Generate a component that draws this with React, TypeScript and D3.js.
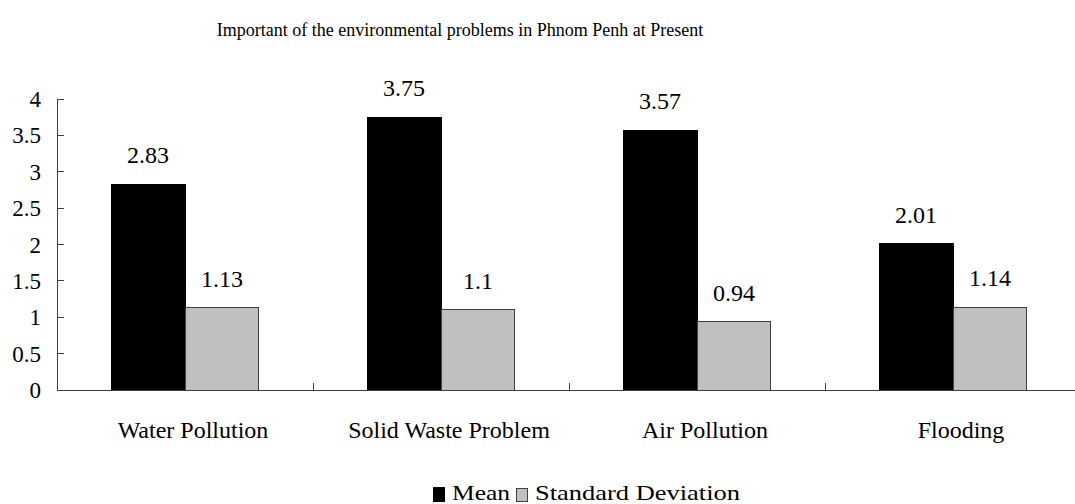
import React from 'react';
import * as d3 from 'd3';

// chart data
const categories = ['Water Pollution', 'Solid Waste Problem', 'Air Pollution', 'Flooding'];
const seriesNames = ['Mean', 'Standard Deviation'];
const meanValues = [2.83, 3.75, 3.57, 2.01];
const sdValues = [1.13, 1.1, 0.94, 1.14];
const yTicks = [0, 0.5, 1, 1.5, 2, 2.5, 3, 3.5, 4];
const title = 'Important of the environmental problems in Phnom Penh at Present';

const colors = ['#000000', '#c0c0c0'];
const strokes = ['#000000', '#404040'];

const App = () => {
  const width = 1075;
  const height = 504;
  const margin = { top: 99, left: 57, bottom: 114, right: -6 };

  const x0 = d3
    .scaleBand()
    .domain(categories)
    .range([margin.left, width - margin.right])
    .paddingInner(0)
    .paddingOuter(0);

  const x1 = d3
    .scaleBand()
    .domain(seriesNames)
    .range([0, x0.bandwidth()])
    .paddingInner(0)
    .paddingOuter(0.73);

  const y = d3
    .scaleLinear()
    .domain([0, 4])
    .range([height - margin.bottom, margin.top]);

  const series = [meanValues, sdValues];
  const axisColor = '#404040';
  const y0 = y(0);

  return (
    <svg
      width={width}
      height={height}
      style={{
        position: 'absolute',
        left: 0,
        top: 0,
        background: '#fff',
        fontFamily: "'Liberation Serif', 'Times New Roman', Times, serif",
      }}
    >
      <text x={460} y={36} textAnchor="middle" fontSize={18}>
        {title}
      </text>

      {/* bars + value labels */}
      {categories.map((c, i) => (
        <g key={c} transform={`translate(${x0(c)},0)`}>
          {seriesNames.map((s, j) => {
            const v = series[j][i];
            const bx = x1(s)!;
            return (
              <g key={s}>
                <rect
                  x={bx}
                  y={y(v)}
                  width={x1.bandwidth()}
                  height={y0 - y(v)}
                  fill={colors[j]}
                  stroke={strokes[j]}
                  strokeWidth={1}
                  shapeRendering="crispEdges"
                />
                <text
                  x={bx + x1.bandwidth() / 2}
                  y={y(v) - 21}
                  textAnchor="middle"
                  fontSize={24}
                >
                  {String(v)}
                </text>
              </g>
            );
          })}
        </g>
      ))}

      {/* y axis */}
      <line x1={margin.left} x2={margin.left} y1={y(4)} y2={y0} stroke={axisColor} shapeRendering="crispEdges" />
      {yTicks.map((t) => (
        <g key={t}>
          <line x1={margin.left} x2={margin.left + 7} y1={y(t)} y2={y(t)} stroke={axisColor} shapeRendering="crispEdges" />
          <text x={41} y={y(t)} dy="0.35em" textAnchor="end" fontSize={23}>
            {String(t)}
          </text>
        </g>
      ))}

      {/* x axis */}
      <line x1={margin.left} x2={width - margin.right} y1={y0} y2={y0} stroke={axisColor} shapeRendering="crispEdges" />
      {categories.map((c) => (
        <g key={c}>
          <line x1={x0(c)!} x2={x0(c)!} y1={y0} y2={y0 - 7} stroke={axisColor} shapeRendering="crispEdges" />
          <text x={x0(c)! + x0.bandwidth() / 2 + 8} y={438} textAnchor="middle" fontSize={24}>
            {c}
          </text>
        </g>
      ))}

      {/* legend */}
      <g>
        <rect x={433} y={487} width={11} height={14} fill={colors[0]} stroke={strokes[0]} shapeRendering="crispEdges" />
        <text x={452} y={500} fontSize={22} textLength={58} lengthAdjust="spacingAndGlyphs">
          {seriesNames[0]}
        </text>
        <rect x={516} y={488} width={11} height={13} fill={colors[1]} stroke={strokes[1]} shapeRendering="crispEdges" />
        <text x={535} y={500} fontSize={22} textLength={205} lengthAdjust="spacingAndGlyphs">
          {seriesNames[1]}
        </text>
      </g>
    </svg>
  );
};

export default App;
